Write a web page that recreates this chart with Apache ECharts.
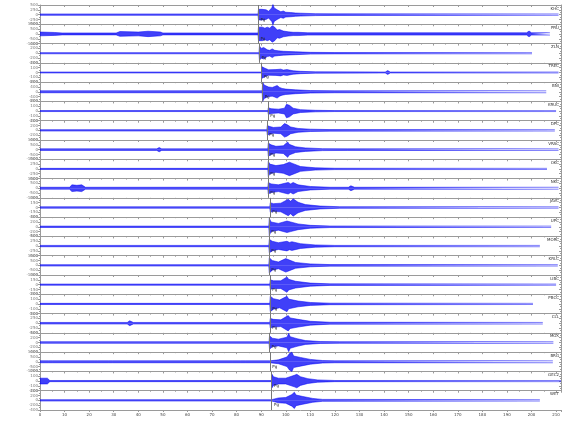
<!DOCTYPE html>
<html><head><meta charset="utf-8">
<script src="https://cdn.jsdelivr.net/npm/echarts@6/dist/echarts.min.js"></script>
<style>html,body{margin:0;padding:0;background:#fff}#c{width:580px;height:440px}</style>
</head><body><div id="c"></div>
<script>
// station names (right-hand labels)
const stations = ["KHC","PRU","ZLN","TREC","BNI","KRUC","DPC","VRAC","OKC","NKC","JAVC","UPC","MORC","KRLC","LIBC","PBCC","CLL","MOX","BRG","GEC2","WET"];
// pick times (s)
const picks = [88.8,88.8,89.2,90.2,90.5,92.8,92.4,92.8,92.8,92.8,93.6,93.2,93.2,93.2,93.6,93.6,93.6,93.3,93.6,94.3,94.3];
// amplitude (counts) at full panel height, for left tick labels
const ampScale = [500,1000,400,200,800,200,400,1000,500,1000,300,400,500,1000,300,200,500,400,1000,200,400];
// envelopes: [time s, amplitude as fraction of panel half-height]
const env1 = [[0,.07],[88.7,.07],[88.9,.55],[89.6,.4],[90.3,.55],[91,.45],[92,.5],[93,.35],[94.3,.7],[94.8,1.05],[95.3,.7],[95.8,.85],[96.5,.5],[97,.45],[98,.3],[99,.38],[100,.25],[102,.22],[104,.17],[106,.15],[112,.1],[120,.08],[211,.07]];
const env2 = [[0,.2],[6,.15],[9,.1],[31,.1],[32.5,.25],[40,.2],[44,.28],[49,.2],[50,.1],[88.7,.1],[88.9,.7],[89.7,.55],[90.5,.7],[91.5,.6],[92.5,.7],[93.5,.6],[94.5,.85],[95.5,.7],[96.5,.4],[97.5,.45],[99,.3],[101,.22],[103,.17],[105,.17],[109,.12],[198,.12],[199,.3],[200,.12],[207.5,.12]];
const env3 = [[0,.06],[89.1,.06],[89.3,.75],[90,.5],[91,.6],[92.5,.35],[93.5,.3],[94.5,.45],[95.5,.3],[97,.25],[99,.2],[104,.15],[110,.09],[120,.07],[200.2,.06]];
const env4 = [[0,.05],[90.1,.05],[90.3,.6],[91,.4],[91.5,.45],[93,.28],[96,.3],[98,.35],[99,.25],[100.5,.3],[103,.18],[106,.12],[112,.07],[140.5,.05],[141.5,.2],[142.5,.05],[211,.05]];
const env5 = [[0,.1],[90.4,.1],[90.6,1.0],[91.2,.7],[91.8,.8],[93,.5],[94.5,.45],[95.5,.55],[96.5,.65],[97.5,.45],[98.5,.35],[100,.28],[104,.2],[110,.13],[120,.1],[206,.1]];
const env6 = [[0,.05],[92.7,.05],[92.9,.35],[94,.25],[97,.2],[99.5,.3],[100.3,.7],[101,.5],[101.5,.6],[103,.3],[106,.15],[112,.08],[120,.05],[210,.05]];
const env7 = [[0,.07],[92.3,.07],[92.5,.5],[93.5,.4],[95,.3],[98,.35],[99.5,.7],[100,.5],[100.5,.6],[102,.35],[105,.2],[110,.12],[118,.08],[209.5,.07]];
const env8 = [[0,.08],[47.5,.08],[48.5,.22],[49.5,.08],[92.7,.08],[92.9,.7],[94,.5],[96,.35],[99,.4],[100.8,.8],[101.4,.55],[102,.65],[104,.3],[108,.18],[115,.1],[125,.08],[211,.08]];
const env9 = [[0,.06],[92.7,.06],[92.9,.8],[93.5,.5],[94,.6],[96,.35],[99,.45],[101.5,.7],[102.2,.5],[103,.55],[106,.25],[112,.12],[120,.07],[206.3,.06]];
const env10 = [[0,.1],[12,.1],[13,.35],[15,.3],[17,.35],[18.5,.1],[92.7,.1],[92.9,.6],[94,.45],[97,.35],[101,.6],[102,.45],[103,.6],[105,.35],[110,.18],[118,.1],[125.5,.1],[126.5,.25],[128,.1],[211,.1]];
const env11 = [[0,.07],[93.5,.07],[93.7,.5],[95,.4],[98,.45],[101,.85],[102,.65],[103,.9],[105,.55],[108,.3],[114,.15],[122,.08],[211,.07]];
const env12 = [[0,.07],[93.1,.07],[93.3,.9],[94,.5],[94.5,.55],[97,.35],[100.5,.6],[102,.5],[105,.3],[110,.15],[118,.08],[208,.07]];
const env13 = [[0,.07],[93.1,.07],[93.3,.7],[94.5,.5],[97,.35],[100.5,.5],[101.5,.38],[102.5,.45],[106,.25],[112,.12],[120,.07],[203.4,.07]];
const env14 = [[0,.07],[93.1,.07],[93.3,.8],[94.5,.5],[97,.35],[100,.7],[100.8,.5],[101.5,.55],[104,.3],[110,.15],[118,.08],[210.7,.07]];
const env15 = [[0,.06],[93.5,.06],[93.7,.5],[95,.4],[98,.4],[100.5,.8],[101.2,.55],[102,.6],[104,.35],[110,.16],[118,.08],[210,.06]];
const env16 = [[0,.06],[93.5,.06],[93.7,.8],[95,.55],[97.5,.4],[100.5,.8],[101.2,.5],[102,.55],[105,.3],[110,.15],[118,.08],[200.6,.06]];
const env17 = [[0,.08],[35.5,.08],[36.5,.25],[38,.08],[93.5,.08],[93.7,.5],[95,.4],[98,.35],[101,.8],[101.8,.55],[102.5,.7],[105,.4],[110,.2],[118,.1],[204.6,.08]];
const env18 = [[0,.08],[93.2,.08],[93.4,.7],[94.5,.45],[97,.35],[100.5,.55],[101.2,.95],[101.8,.6],[102.5,.7],[104.6,.4],[108,.2],[114,.1],[122,.08],[208.9,.08]];
const env19 = [[0,.1],[3.5,.1],[4,.22],[5,.1],[22,.1],[22.5,.2],[23.5,.1],[28,.1],[28.5,.25],[29.5,.1],[76.5,.1],[77.3,.18],[78.5,.1],[81.5,.1],[82.2,.22],[83.5,.1],[93.5,.1],[93.7,.2],[97,.2],[100.5,.5],[101.5,.85],[102,.65],[102.5,1.0],[103.2,.6],[104,.7],[106,.45],[110,.25],[115,.13],[120,.1],[208.7,.1]];
const env20 = [[0,.3],[3,.3],[4,.06],[94.2,.06],[94.4,.7],[95,.45],[95.5,.5],[97,.3],[100,.3],[103.5,.6],[104,.45],[104.5,.7],[106,.45],[109,.25],[113,.12],[120,.06],[212,.06]];
const env21 = [[0,.07],[94.2,.07],[94.4,.25],[97,.25],[100,.3],[102.5,.6],[103.5,.85],[104.2,.55],[105,.7],[107,.4],[111,.2],[115,.1],[203.4,.07]];
const envelopes = [env1,env2,env3,env4,env5,env6,env7,env8,env9,env10,env11,env12,env13,env14,env15,env16,env17,env18,env19,env20,env21];
const pickLabel = "Pg";

const N = envelopes.length;
const TOP = 5, BOTTOM = 410;
const H = (BOTTOM - TOP) / N;
const BLUE = '#0000f5';
const GRAY = '#9a9a9a';

const grid = [], xAxis = [], yAxis = [], series = [], title = [];
for (let i = 0; i < N; i++) {
  grid.push({left: 40, right: 19, top: TOP + i * H, height: H});
  xAxis.push({type: 'value', gridIndex: i, min: 0, max: 212, interval: 10, position: 'top',
    axisLine: {show: true, onZero: false, lineStyle: {color: GRAY, width: 1}},
    axisTick: {show: true, inside: true, length: 2, lineStyle: {color: GRAY}},
    minorTick: {show: true, splitNumber: 2, length: 1, lineStyle: {color: GRAY}},
    axisLabel: {show: false}, splitLine: {show: false}});
  title.push({text: stations[i], right: 21, top: TOP + i * H + 1.5, padding: 0,
    textStyle: {fontSize: 4, color: '#333', fontWeight: 'normal', fontFamily: 'DejaVu Sans'}});
}
for (let i = 0; i < N; i++) {
  yAxis.push({type: 'value', gridIndex: i, min: -1, max: 1, interval: 0.5,
    axisLine: {show: true, lineStyle: {color: GRAY}},
    axisTick: {show: true, length: 2, lineStyle: {color: GRAY}},
    minorTick: {show: true, splitNumber: 2, length: 1, lineStyle: {color: GRAY}},
    axisLabel: {fontSize: 4, color: '#777', margin: 2, fontFamily: 'DejaVu Sans',
      formatter: (v) => String(Math.round(v * ampScale[i]))},
    splitLine: {show: false}});
}
for (let i = 0; i < N; i++) {
  yAxis.push({type: 'value', gridIndex: i, min: -1, max: 1, interval: 0.5, position: 'right',
    axisLine: {show: true, lineStyle: {color: GRAY}},
    axisTick: {show: true, inside: true, length: 2, lineStyle: {color: GRAY}},
    minorTick: {show: true, splitNumber: 2, length: 1, lineStyle: {color: GRAY}},
    axisLabel: {show: false}, splitLine: {show: false}});
}
// bottom labelled time axis
xAxis.push({type: 'value', gridIndex: N - 1, min: 0, max: 212, interval: 10, position: 'bottom',
  axisLine: {show: true, onZero: false, lineStyle: {color: GRAY, width: 1}},
  axisTick: {show: true, length: 2, lineStyle: {color: GRAY}},
  minorTick: {show: true, splitNumber: 2, length: 1, lineStyle: {color: GRAY}},
  axisLabel: {show: true, fontSize: 4, color: '#444', margin: 3, showMaxLabel: false, fontFamily: 'DejaVu Sans'},
  splitLine: {show: false}});

for (let i = 0; i < N; i++) {
  const env = envelopes[i];
  const common = {type: 'line', xAxisIndex: i, yAxisIndex: i, symbol: 'none', showSymbol: false,
    silent: true, clip: false, animation: false,
    lineStyle: {width: 0.5, color: BLUE}, itemStyle: {color: BLUE},
    areaStyle: {color: BLUE, opacity: 0.75, origin: 0}};
  series.push(Object.assign({}, common, {
    data: env.map(p => [p[0], p[1]]),
    markLine: {silent: true, symbol: 'none', animation: false, label: {show: false},
      lineStyle: {color: '#777', width: 1, type: 'solid'}, data: [{xAxis: picks[i]}]},
    markPoint: {silent: true, animation: false, symbol: 'circle', symbolSize: 0,
      label: {show: true, position: 'right', formatter: pickLabel, fontSize: 4, color: '#222', distance: 1, fontFamily: 'DejaVu Sans'},
      data: [{coord: [picks[i] + 0.5, -0.5]}]}
  }));
  series.push(Object.assign({}, common, {data: env.map(p => [p[0], -p[1]])}));
}

const chart = echarts.init(document.getElementById('c'), null, {renderer: 'canvas'});
chart.setOption({animation: false, backgroundColor: '#fff', title, grid, xAxis, yAxis, series});
</script></body></html>
